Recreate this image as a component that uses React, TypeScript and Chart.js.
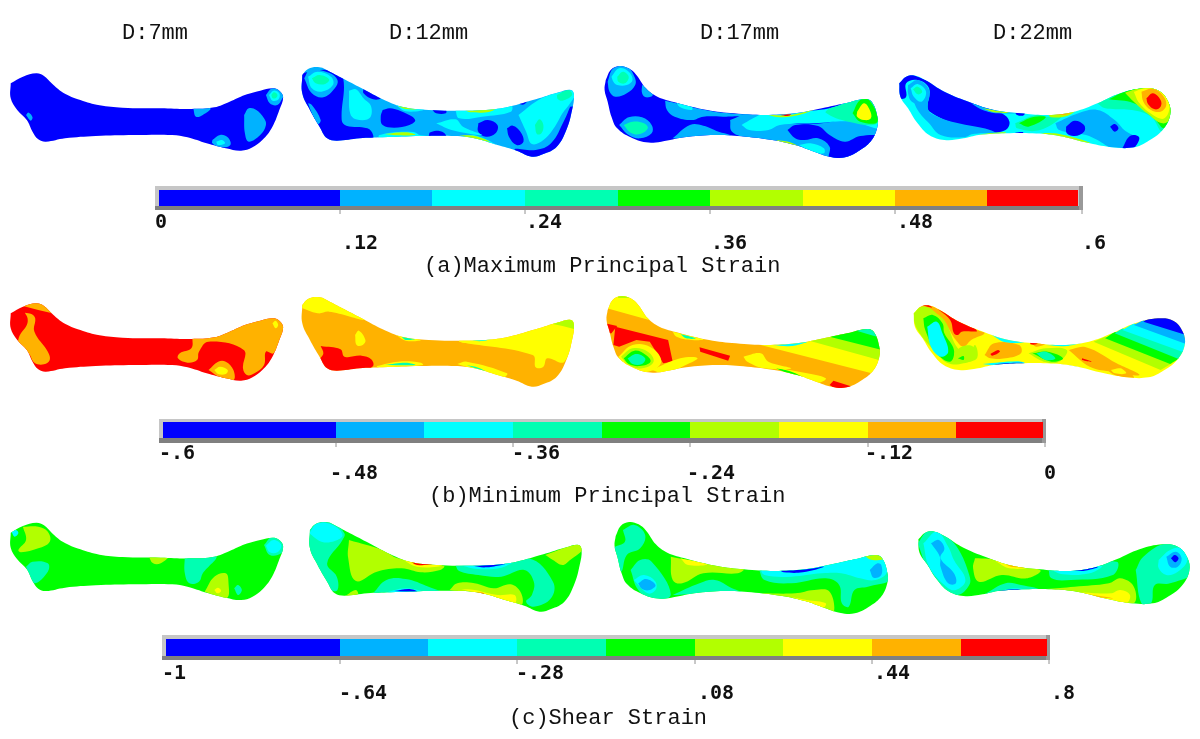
import React, { useEffect, useRef } from "react";
import { Chart, registerables } from "chart.js";

const palette = ["#0000ff", "#00b2ff", "#00ffff", "#00ffb2", "#00ff00", "#b2ff00", "#ffff00", "#ffb200", "#ff0000"];
const CROP_SCALE_X = 1568 / 600;
const CROP_SCALE_Y = 3;

// Outlines, in crop units, relative to a row/column origin.
const OUT_1 = [28,70,60,50,95,40,115,48,135,70,165,98,210,120,260,136,320,143,420,145,500,147,560,142,600,125,640,105,680,92,712,85,730,92,740,112,730,150,712,200,690,235,660,262,630,272,590,265,540,250,490,232,450,225,350,225,250,228,170,235,120,245,100,238,85,215,70,180,45,150,28,115];
const OUT_2 = [790,45,805,27,835,22,862,35,900,58,950,88,1000,118,1050,140,1120,150,1200,152,1270,150,1330,140,1400,118,1460,97,1492,90,1500,105,1495,150,1480,210,1455,260,1420,282,1390,290,1350,272,1300,255,1240,235,1190,228,1100,228,1000,232,940,235,880,242,855,235,835,200,810,150,790,100];
const OUT_3 = [15,60,28,30,50,18,75,25,95,45,120,85,150,110,200,128,280,150,350,160,430,165,510,160,580,145,640,130,695,117,712,128,725,170,725,200,710,240,680,270,640,292,600,290,560,275,510,255,450,240,380,230,300,225,220,232,160,245,120,247,80,232,45,205,30,170,20,125,12,90];
const OUT_4 = [782,70,800,50,825,47,850,60,900,95,970,128,1030,150,1100,160,1170,165,1240,155,1300,130,1360,100,1420,85,1460,92,1485,125,1490,165,1470,210,1430,245,1395,262,1340,262,1280,250,1200,228,1130,220,1060,220,990,225,950,235,900,240,860,225,830,190,805,145,785,110];

type Patch = [number, number[], boolean?];

const PATCH_A1: Patch[] = [
  [1,[638,165,650,145,670,150,690,175,695,195,680,225,650,245,640,220]],
  [1,[555,240,575,225,595,232,602,255,575,262,555,250]],
  [2,[565,245,580,240,588,250,570,255]],
  [1,[505,145,550,145,530,165,512,170]],
  [1,[695,105,712,85,745,95,738,115,725,135,705,130]],
  [2,[703,105,715,92,730,100,728,118,712,122]],
  [3,[709,105,716,97,725,104,722,113,713,115]],
  [1,[68,165,75,158,85,172,80,182]],
];
const PATCH_A2: Patch[] = [
  [0,[780,40,870,30,897,55,893,180,905,197,960,205,975,225,970,245,850,250,820,210,780,100]],
  [1,[795,55,810,30,860,38,882,60,875,85,845,112,815,100]],
  [2,[805,50,830,35,865,50,870,75,840,95,815,85]],
  [3,[815,55,835,45,860,58,850,72,825,70]],
  [1,[805,130,815,135,838,180,830,192,815,160]],
  [0,[950,85,980,100,995,115,975,118,950,100]],
  [0,[1000,150,1020,145,1060,160,1085,180,1070,195,1030,203,1000,195,995,170]],
  [0,[1130,150,1165,150,1165,160,1140,160]],
  [0,[1122,218,1140,212,1160,218,1165,232,1122,232]],
  [0,[1250,190,1275,180,1300,195,1295,220,1270,230,1250,215]],
  [0,[1325,205,1340,197,1360,215,1368,245,1350,255,1330,230]],
  [0,[1490,140,1510,140,1490,215,1465,270,1420,295,1385,295,1345,268,1400,270,1440,250,1475,180]],
  [0,[1355,125,1380,118,1370,133,1358,132]],
  [2,[912,92,930,88,950,115,970,140,965,175,930,178,915,160]],
  [2,[1355,165,1415,115,1470,95,1505,95,1490,130,1470,160,1450,200,1420,240,1390,252,1375,215]],
  [3,[1398,195,1410,178,1420,195,1415,220,1403,222]],
  [3,[1455,105,1485,90,1495,105,1470,122,1458,118]],
  [2,[1140,190,1190,178,1210,200,1260,225,1180,210]],
  [2,[1190,150,1335,135,1335,155,1260,170,1200,175]],
  [5,[1215,151,1260,148,1300,140,1280,155,1230,157]],
  [2,[990,226,1020,218,1080,216,1100,226,1190,232,1240,226,1300,258,1240,240,1190,232,990,236]],
  [5,[1005,222,1060,217,1085,224,1040,226]],
  [5,[1200,226,1240,228,1280,245,1240,238]],
  [2,[1030,130,1060,138,1110,148,1060,154]],
  [5,[1040,138,1070,141,1090,147,1060,147]],
];
const PATCH_A3: Patch[] = [
  [1,[20,65,35,25,70,20,90,50,92,75,70,100,40,110,25,95]],
  [2,[30,50,50,25,75,35,85,60,70,75,45,75,35,65]],
  [3,[45,50,60,35,75,50,65,70,48,65]],
  [1,[110,75,125,85,138,105,120,112,110,100]],
  [1,[50,195,75,172,110,172,135,195,135,220,105,235,75,225]],
  [3,[62,195,85,185,115,190,125,205,105,222,80,218]],
  [1,[170,122,300,155,395,165,330,170,270,170,240,180,195,170,175,150]],
  [2,[200,128,240,140,240,150,210,142]],
  [1,[190,235,235,195,270,197,310,215,340,225,350,238,260,240]],
  [1,[340,180,390,160,430,165,500,190,580,190,700,170,730,220,720,240,640,300,560,280,450,245,390,235,345,215]],
  [2,[370,195,405,172,430,160,510,155,600,145,695,112,722,175,730,205,660,185,560,190,470,195,440,210,390,210]],
  [3,[600,145,695,115,715,130,725,190,650,185,590,158]],
  [4,[660,160,680,120,705,122,725,185,680,185]],
  [6,[672,155,690,130,705,150,708,175,690,180,672,170]],
  [0,[490,210,510,195,570,198,600,225,640,245,680,228,730,230,700,265,650,300,600,295,600,260,570,235,535,240,510,235]],
  [2,[520,255,550,250,585,265,585,280,555,275]],
  [5,[440,165,500,165,560,148,520,165,470,172]],
  [8,[470,164,500,163,490,168]],
  [5,[460,240,500,248,530,268,490,255]],
];
const PATCH_A4: Patch[] = [
  [0,[775,75,800,45,840,55,970,125,1050,160,1070,185,1060,210,1020,215,862,155,860,85,830,60,800,70,800,110,785,115]],
  [1,[815,105,855,90,865,160,1030,215,975,222,950,232,890,225,860,190,830,150]],
  [1,[805,75,830,60,860,90,850,135,815,125,805,100]],
  [2,[812,85,830,72,852,95,840,125,820,110]],
  [3,[818,88,830,80,842,95,830,103]],
  [1,[1190,190,1250,160,1300,150,1345,180,1370,210,1400,235,1395,265,1340,265,1300,240,1270,225,1200,210]],
  [0,[1218,200,1240,182,1265,195,1265,215,1240,228,1220,220]],
  [0,[1333,200,1345,192,1355,205,1345,215]],
  [0,[1365,265,1385,228,1408,230,1405,250,1390,266]],
  [3,[1300,130,1360,95,1420,80,1465,88,1495,170,1470,215,1440,170,1390,150,1320,145]],
  [4,[1330,118,1370,95,1420,82,1465,88,1495,165,1475,205,1445,170,1395,130]],
  [5,[1372,98,1420,82,1465,86,1492,130,1495,170,1470,190,1430,160,1395,125]],
  [6,[1395,95,1430,83,1465,92,1488,135,1475,175,1445,165,1410,130]],
  [7,[1415,95,1445,86,1470,105,1480,135,1465,155,1440,150,1420,125]],
  [8,[1428,115,1445,100,1465,120,1465,140,1450,148,1432,132]],
  [3,[1085,190,1140,165,1170,170,1210,165,1150,210,1090,205]],
  [4,[1095,190,1130,172,1165,172,1120,200]],
  [1,[970,130,1030,145,1090,158,1040,160,1000,150]],
  [5,[1000,145,1040,153,1070,158,1030,157]],
  [0,[1085,158,1110,160,1105,167,1090,165]],
  [0,[1085,218,1105,216,1105,222,1090,222]],
  [5,[1170,162,1240,152,1220,168,1180,172]],
  [7,[1175,163,1230,158,1210,165]],
  [5,[1150,218,1200,222,1280,248,1230,242]],
  [7,[1175,228,1215,232,1260,248,1220,240]],
  [5,[990,223,1060,217,1040,228]],
];
const PATCH_B1: Patch[] = [
  [7,[50,45,95,30,120,40,145,72,100,60],true],
  [7,[65,68,82,72,92,85,90,125,125,185,130,210,115,223,90,218,75,190,50,165,50,140,70,105,72,85]],
  [7,[503,140,570,135,640,100,712,78,750,110,715,190,695,185,690,225,665,250,645,255,635,235,637,180,545,155,520,185,515,210,490,218,465,205,470,190,500,175]],
  [6,[712,100,720,92,727,105,720,115]],
  [7,[545,240,570,215,590,215,610,240,610,270,575,262]],
  [6,[560,240,575,230,595,240,590,252,570,252]],
];
const PATCH_B2: Patch[] = [
  [6,[780,50,800,10,860,15,955,88,860,65,830,70]],
  [6,[1200,150,1300,135,1510,80,1510,100,1475,215,1430,205,1420,230,1400,232,1392,195,1200,155]],
  [5,[1435,100,1500,80,1510,120,1470,108],true],
  [6,[928,135,938,122,955,150,948,165,932,165]],
  [8,[838,168,890,178,900,200,945,197,970,208,975,228,950,240,860,250,835,215,845,190]],
  [6,[1030,130,1060,140,1100,150,1060,152]],
  [3,[1050,141,1085,146,1060,150]],
  [6,[1200,152,1300,137,1260,157,1210,158]],
  [2,[1225,150,1290,143,1260,153]],
  [6,[985,228,1040,215,1100,218,1105,225,985,234]],
  [3,[1005,225,1060,218,1085,225]],
  [6,[1195,222,1220,215,1325,250,1315,262,1240,238]],
  [3,[1220,226,1250,233,1270,245]],
];
const PATCH_B3: Patch[] = [
  [6,[0,5,120,5,145,95,10,52],true],
  [5,[40,10,85,10,90,24,48,24],true],
  [6,[420,165,560,150,745,215,710,250],true],
  [5,[540,150,620,130,745,180,745,215],true],
  [4,[600,140,700,108,745,130,745,182],true],
  [3,[670,122,715,108,728,142],true],
  [2,[450,165,540,155,500,168]],
  [8,[15,100,45,108,30,130,20,130],true],
  [8,[40,110,178,150,190,215,165,220,130,155,95,150,50,170,35,165],true],
  [6,[48,200,85,165,130,170,160,210,140,240,90,245,60,230]],
  [5,[55,200,85,175,125,185,140,215,110,235,75,225]],
  [4,[62,205,90,182,120,195,132,215,105,228,75,222]],
  [3,[72,205,95,192,118,205,110,222,85,222]],
  [8,[260,172,340,197,335,212,262,185],true],
  [6,[375,200,420,190,440,215,500,235,430,235,385,215]],
  [6,[445,230,520,245,590,265,560,280,470,240]],
  [4,[460,235,500,245,530,262,480,245]],
  [8,[610,272,660,290,620,300,600,285],true],
  [6,[190,125,270,148,240,150,200,140]],
  [3,[210,132,250,145,225,145]],
  [6,[135,240,210,205,255,205,215,230,170,250]],
];
const PATCH_B4: Patch[] = [
  [7,[1225,180,1270,172,1350,220,1410,255,1340,245,1280,230]],
  [5,[1290,155,1320,140,1495,220,1465,240],true],
  [4,[1320,145,1345,125,1515,205,1490,222],true],
  [3,[1345,130,1365,115,1530,185,1512,207],true],
  [2,[1365,120,1395,100,1535,160,1525,187],true],
  [1,[1395,105,1420,90,1540,135,1532,162],true],
  [0,[1420,95,1450,70,1540,80,1540,138],true],
  [7,[820,50,880,50,985,120,1005,130,970,150,950,170,930,150,900,100,850,60]],
  [8,[880,55,925,85,985,122,945,125,935,135,925,130,915,90]],
  [8,[815,50,840,38,868,52,840,47]],
  [5,[815,65,850,50,885,75,905,100,935,175,965,190,980,165,985,200,950,220,910,220,880,190,830,120]],
  [4,[845,85,870,75,895,100,900,130,925,180,915,215,880,190,850,120]],
  [2,[855,110,880,95,895,130,910,185,890,200,865,170]],
  [5,[925,190,945,170,975,170,985,205,945,215]],
  [4,[935,205,950,198,950,210]],
  [7,[1005,195,1030,160,1095,165,1100,190,1060,205,1020,205]],
  [8,[1020,192,1040,180,1045,185,1025,197]],
  [5,[1120,190,1165,175,1220,180,1200,215,1160,215]],
  [4,[1130,190,1170,185,1210,205,1180,215]],
  [3,[1140,190,1165,185,1190,205,1165,210]],
  [2,[1020,132,1060,145,1110,155,1060,157]],
  [2,[1000,222,1090,214,1110,220,1060,230]],
  [0,[1030,222,1090,218,1110,220,1060,228]],
  [1,[1190,222,1250,232,1290,252,1230,245]],
  [0,[1215,228,1290,250,1250,240]],
  [2,[1165,165,1270,152,1220,168]],
  [7,[1125,152,1170,157,1140,170]],
  [8,[1125,157,1145,157,1140,163,1125,163]],
  [7,[1320,235,1375,240,1395,265,1345,255]],
  [6,[1335,240,1360,235,1375,250,1345,250]],
  [8,[1260,205,1285,215,1260,210]],
];
const PATCH_C1: Patch[] = [
  [5,[60,35,100,35,125,50,130,80,100,100,55,112,48,105,68,75]],
  [2,[30,50,42,45,48,55,38,65]],
  [3,[68,155,85,140,125,145,125,170,90,205,75,175]],
  [5,[388,122,440,122,420,145,400,145]],
  [3,[483,122,565,122,530,175,520,200,495,205,483,175]],
  [5,[535,230,560,185,590,175,597,200,592,250]],
  [6,[560,225,570,218,578,228,568,235]],
  [3,[612,220,622,210,632,225,622,240]],
  [3,[690,90,712,65,745,85,735,115,705,120]],
  [2,[695,92,715,75,735,90,725,112,705,112]],
];
const PATCH_C2: Patch[] = [
  [3,[800,45,825,20,870,25,900,55,895,75,855,145,880,185,882,225,865,225,825,170,800,110]],
  [2,[808,55,830,25,870,30,895,60,875,78,840,80]],
  [5,[912,75,1000,105,1040,130,1160,152,1150,165,1100,172,1050,160,985,170,930,198,910,130]],
  [6,[1045,128,1100,145,1155,152,1090,155]],
  [8,[1075,142,1130,148,1090,150]],
  [3,[975,235,1010,195,1060,192,1120,215,1160,235,1060,236]],
  [2,[1000,236,1060,220,1110,234]],
  [0,[1030,228,1070,222,1090,230]],
  [5,[900,245,930,225,935,245]],
  [3,[1190,150,1380,130,1445,200,1440,250,1395,275,1375,260,1390,240,1395,200,1370,165,1310,185,1250,180,1200,168]],
  [2,[1200,150,1340,138,1310,158,1250,162]],
  [0,[1235,152,1320,146,1270,157]],
  [5,[1175,225,1195,205,1240,205,1290,220,1335,208,1362,235,1362,272,1320,260,1240,240]],
  [6,[1205,222,1240,225,1300,240,1345,240,1345,265,1290,250]],
  [8,[1240,232,1265,235,1260,238]],
  [5,[1425,120,1510,88,1525,100,1490,135,1470,150,1445,135]],
];
const PATCH_C3: Patch[] = [
  [3,[60,45,90,30,118,60,105,100,70,120,55,170,35,130,35,100,65,80]],
  [3,[80,165,105,135,135,140,185,238,140,255,100,225]],
  [2,[88,195,115,180,145,200,145,225,125,235]],
  [1,[100,205,120,192,145,210,130,225,110,222]],
  [5,[185,125,300,150,375,162,360,175,270,175,215,205,190,195]],
  [6,[210,130,280,148,230,150]],
  [3,[190,240,260,205,300,195,345,220,375,235,260,236]],
  [5,[420,235,510,235,560,225,600,230,610,295,580,285,510,255]],
  [6,[500,245,540,255,590,265,580,280]],
  [3,[415,163,600,150,745,110,760,190,700,215,665,225,650,275,632,265,625,210,590,190,500,205,430,195]],
  [2,[418,163,580,150,735,118,750,170,720,195,680,190,630,175,580,175,500,185,430,180]],
  [0,[470,166,540,163,585,155,530,172,480,172]],
  [1,[705,165,725,145,735,150,735,180,715,188]],
  [5,[690,122,730,112,745,130,712,135]],
];
const PATCH_C4: Patch[] = [
  [3,[830,85,860,45,900,60,935,100,965,180,965,210,935,240,900,225,860,170]],
  [2,[845,85,880,50,910,95,925,135,955,195,930,225,905,215,860,155]],
  [1,[865,85,885,75,900,100,890,130,925,175,930,205,910,205,890,155,888,125]],
  [5,[980,130,1030,133,1150,165,1115,190,1050,180,990,200,975,160]],
  [6,[1030,136,1120,157,1070,160]],
  [7,[1060,148,1120,158,1075,155]],
  [3,[1005,238,1060,205,1100,210,1150,225,1100,238]],
  [2,[1025,238,1080,220,1120,228]],
  [0,[1040,228,1090,222,1105,228,1060,232]],
  [3,[1172,163,1350,140,1340,180,1230,195,1180,190]],
  [2,[1175,163,1310,153,1280,175,1210,178]],
  [0,[1220,163,1300,156,1260,168]],
  [5,[1165,222,1240,215,1330,205,1360,190,1395,215,1395,265,1340,255,1260,235]],
  [6,[1250,232,1335,235,1360,225,1385,240,1375,265,1330,255]],
  [7,[1260,235,1340,250,1300,245]],
  [3,[1400,165,1420,125,1480,85,1545,95,1552,170,1490,205,1450,210,1440,265,1415,265]],
  [2,[1460,135,1490,105,1520,100,1535,135,1510,170,1480,180,1460,160]],
  [1,[1480,125,1505,110,1520,130,1510,155,1490,155]],
  [0,[1492,130,1502,120,1512,130,1503,142]],
];

// [outline, base colour, patches, crop x, crop y, outline dx, outline dy]
const plates: [number[], number, Patch[], number, number, number, number][] = [
  [OUT_1, 0, PATCH_A1, 0, 60, 0, 0],
  [OUT_2, 1, PATCH_A2, 0, 60, 0, 0],
  [OUT_3, 0, PATCH_A3, 600, 60, 0, 0],
  [OUT_4, 2, PATCH_A4, 600, 60, 0, 0],
  [OUT_1, 8, PATCH_B1, 0, 290, 0, 0],
  [OUT_2, 7, PATCH_B2, 0, 290, 0, 0],
  [OUT_3, 7, PATCH_B3, 600, 290, 5, 0],
  [OUT_4, 6, PATCH_B4, 600, 290, 38, 0],
  [OUT_1, 4, PATCH_C1, 0, 515, 0, -17],
  [OUT_2, 4, PATCH_C2, 0, 515, 20, 0],
  [OUT_3, 4, PATCH_C3, 600, 515, 26, 3],
  [OUT_4, 4, PATCH_C4, 600, 515, 50, 3],
];

const barEdgesA = [159, 340, 432, 525, 618, 710, 803, 895, 987, 1078];
const barEdgesB = [163, 336, 424, 513, 602, 690, 779, 868, 956, 1043];
const barEdgesC = [166, 340, 428, 517, 606, 695, 783, 872, 961, 1047];
// [left, top, right, bottom, colour top, colour bottom]
const barFrames = [
  [155, 186, 1083, 210, 190, 206],
  [159, 419, 1046, 443, 422, 438],
  [162, 635, 1050, 660, 639, 656],
];
const barEdges = [barEdgesA, barEdgesB, barEdgesC];

const columnTitles: [string, number, number][] = [
  ["D:7mm", 122, 39], ["D:12mm", 389, 39], ["D:17mm", 700, 39], ["D:22mm", 993, 39],
];
const captions: [string, number, number][] = [
  ["(a)Maximum Principal Strain", 424, 272],
  ["(b)Minimum Principal Strain", 429, 502],
  ["(c)Shear Strain", 509, 724],
];
const tickLabels: [string, number, number][] = [
  ["0", 155, 228], [".12", 342, 249], [".24", 526, 228], [".36", 711, 249], [".48", 897, 228], [".6", 1082, 249],
  ["-.6", 159, 459], ["-.48", 330, 479], ["-.36", 512, 459], ["-.24", 687, 479], ["-.12", 865, 459], ["0", 1044, 479],
  ["-1", 162, 679], ["-.64", 339, 699], ["-.28", 516, 679], [".08", 698, 699], [".44", 874, 679], [".8", 1051, 699],
];

type XY = { x: number; y: number };
const toPoints = (a: number[], ox: number, oy: number): XY[] => {
  const out: XY[] = [];
  for (let i = 0; i < a.length; i += 2) out.push({ x: ox + a[i] / CROP_SCALE_X, y: oy + a[i + 1] / CROP_SCALE_Y });
  out.push(out[0]);
  return out;
};
const rect = (l: number, t: number, r: number, b: number): XY[] => [
  { x: l, y: t }, { x: r, y: t }, { x: r, y: b }, { x: l, y: b }, { x: l, y: t },
];

function buildDatasets() {
  const list: any[] = [];
  const area = (data: XY[], color: string, tension: number, clipTo?: number) => ({
    data, backgroundColor: color, borderWidth: 0, pointRadius: 0, fill: "shape", tension, clipTo,
  });
  plates.forEach(([outline, base, patches, ox, oy, dx, dy]) => {
    const outlineIndex = list.length;
    list.push(area(toPoints(outline, ox + dx / CROP_SCALE_X, oy + dy / CROP_SCALE_Y), palette[base], 0.4));
    patches.forEach(([c, pts, straight]) => {
      list.push(area(toPoints(pts, ox, oy), palette[c], straight ? 0 : 0.4, outlineIndex));
    });
  });
  barFrames.forEach(([l, t, r, b, ct, cb], k) => {
    list.push(area(rect(l, t, r, b), "#c6c6c6", 0));
    list.push(area(rect(l, cb, r, b), "#808080", 0));
    list.push(area(rect(r - 4, t, r, b), "#999999", 0));
    const edges = barEdges[k];
    for (let i = 0; i < 9; i++) {
      list.push(area(rect(edges[i], ct, edges[i + 1], cb), palette[i], 0));
    }
    for (let i = 1; i < 9; i += 2) {
      list.push({
        data: [{ x: edges[i], y: b }, { x: edges[i], y: b + 4 }],
        borderColor: "#c0c0c0", borderWidth: 1, pointRadius: 0, fill: false, tension: 0,
      });
    }
    list.push({
      data: [{ x: r - 1, y: b }, { x: r - 1, y: b + 4 }],
      borderColor: "#c0c0c0", borderWidth: 1, pointRadius: 0, fill: false, tension: 0,
    });
  });
  const n = list.length;
  list.forEach((d, i) => { d.order = n - i; });
  return list;
}

const clipPlugin = {
  id: "plateClip",
  beforeDatasetDraw(chart: any, args: any) {
    const ds = chart.data.datasets[args.index];
    if (ds.clipTo == null) return;
    const ctx = chart.ctx;
    ctx.save();
    ctx.beginPath();
    chart.getDatasetMeta(ds.clipTo).dataset.path(ctx);
    ctx.closePath();
    ctx.clip();
  },
  afterDatasetDraw(chart: any, args: any) {
    const ds = chart.data.datasets[args.index];
    if (ds.clipTo != null) chart.ctx.restore();
  },
};

const textPlugin = {
  id: "textLabels",
  afterDraw(chart: any) {
    const ctx = chart.ctx;
    const sx = chart.scales.x;
    const sy = chart.scales.y;
    ctx.save();
    ctx.fillStyle = "#111111";
    ctx.textBaseline = "alphabetic";
    ctx.textAlign = "left";
    ctx.font = '22px "Liberation Mono"';
    for (const [t, x, y] of [...columnTitles, ...captions]) {
      ctx.fillText(t, sx.getPixelForValue(x), sy.getPixelForValue(y));
    }
    ctx.font = 'bold 20px "DejaVu Sans Mono"';
    for (const [t, x, y] of tickLabels) {
      ctx.fillText(t, sx.getPixelForValue(x), sy.getPixelForValue(y));
    }
    ctx.restore();
  },
};

Chart.register(clipPlugin);
Chart.register(...registerables);

export default function App() {
  const ref = useRef<HTMLCanvasElement>(null);
  useEffect(() => {
    const chart = new Chart(ref.current as HTMLCanvasElement, {
      type: "line",
      data: { datasets: buildDatasets() },
      options: {
        animation: false,
        responsive: false,
        events: [],
        layout: { padding: 0 },
        scales: {
          x: { type: "linear", min: 0, max: 1200, display: false },
          y: { type: "linear", min: 0, max: 739, reverse: true, display: false },
        },
        plugins: { legend: { display: false }, tooltip: { enabled: false }, title: { display: false } },
      },
      plugins: [textPlugin],
    } as any);
    return () => chart.destroy();
  }, []);
  return (
    <div style={{ position: "fixed", left: 0, top: 0, width: 1200, height: 739, background: "#fff" }}>
      <canvas ref={ref} width={1200} height={739} style={{ display: "block" }} />
    </div>
  );
}
